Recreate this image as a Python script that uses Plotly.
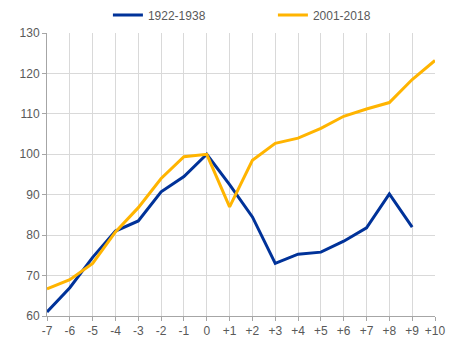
import plotly.graph_objects as go

x_vals = list(range(-7, 11))
tick_labels = ["-7", "-6", "-5", "-4", "-3", "-2", "-1", "0", "+1", "+2", "+3", "+4", "+5", "+6", "+7", "+8", "+9", "+10"]
series_1922 = [61.0, 67.0, 74.5, 81.0, 83.5, 90.7, 94.5, 100.0, 92.5, 84.5, 73.0, 75.3, 75.8, 78.5, 81.8, 90.2, 82.0]
series_2001 = [66.7, 69.0, 73.0, 80.8, 86.8, 94.0, 99.4, 100.0, 87.0, 98.5, 102.7, 104.0, 106.4, 109.4, 111.2, 112.8, 118.5, 123.2]

fig = go.Figure()
fig.add_trace(go.Scatter(x=x_vals[:len(series_1922)], y=series_1922, mode="lines", name="1922-1938",
                         line=dict(color="#003299", width=3)))
fig.add_trace(go.Scatter(x=x_vals, y=series_2001, mode="lines", name="2001-2018",
                         line=dict(color="#FFB400", width=3)))

fig.update_layout(
    width=454, height=340,
    margin=dict(l=47, r=19, t=33, b=24, autoexpand=False),
    paper_bgcolor="white", plot_bgcolor="white",
    font=dict(family="Arial, Liberation Sans, sans-serif", size=12, color="#595959"),
    showlegend=True,
    legend=dict(orientation="h", x=0.157, xanchor="left",
                yref="container", y=0.956, yanchor="middle",
                entrywidth=120, entrywidthmode="pixels", itemwidth=30,
                tracegroupgap=0, font=dict(size=12, color="#595959")),
    xaxis=dict(range=[-7, 10], tickvals=x_vals, ticktext=tick_labels, automargin=False,
               showgrid=True, gridcolor="#d9d9d9", gridwidth=1,
               showline=True, linecolor="#a6a6a6", linewidth=1,
               ticks="outside", ticklen=4, tickcolor="#a6a6a6", zeroline=False),
    yaxis=dict(range=[60, 130], tickvals=[60, 70, 80, 90, 100, 110, 120, 130], automargin=False,
               showgrid=True, gridcolor="#d9d9d9", gridwidth=1,
               showline=True, linecolor="#a6a6a6", linewidth=1,
               ticks="outside", ticklen=4, tickcolor="#a6a6a6", zeroline=False),
)

fig.write_html("out.html")
